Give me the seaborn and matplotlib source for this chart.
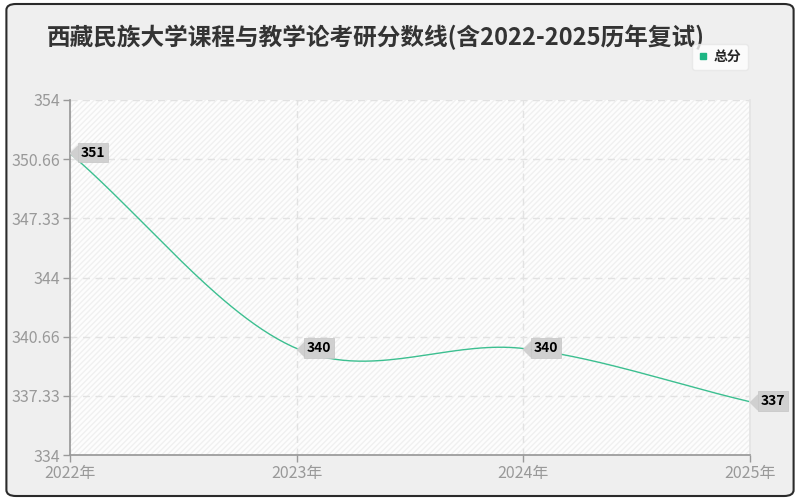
import numpy as np
import pandas as pd
import seaborn as sns
import matplotlib.pyplot as plt
from matplotlib.patches import FancyBboxPatch
from matplotlib.lines import Line2D

# data
years = [2022, 2023, 2024, 2025]
scores = [351, 340, 340, 337]
year_labels = ['2022年', '2023年', '2024年', '2025年']
y_ticks = [334, 337.33, 340.66, 344, 347.33, 350.66, 354]
y_tick_labels = ['334', '337.33', '340.66', '344', '347.33', '350.66', '354']
title = '西藏民族大学课程与教学论考研分数线(含2022-2025历年复试)'
series_name = '总分'

sns.set_theme(style='white')
plt.rcParams['font.family'] = ['Noto Sans CJK SC', 'DejaVu Sans']

# smooth curve through points (cardinal spline, like the web chart)
x = np.array(years, dtype=float)
y = np.array(scores, dtype=float)
n = len(x)
m = np.zeros(n)
for i in range(n):
    if i == 0:
        m[i] = (y[1] - y[0]) / (x[1] - x[0])
    elif i == n - 1:
        m[i] = (y[-1] - y[-2]) / (x[-1] - x[-2])
    else:
        m[i] = (y[i + 1] - y[i - 1]) / (x[i + 1] - x[i - 1])
xs, ys = [], []
for i in range(n - 1):
    t = np.linspace(0, 1, 60)
    h = x[i + 1] - x[i]
    h00 = 2 * t**3 - 3 * t**2 + 1
    h10 = t**3 - 2 * t**2 + t
    h01 = -2 * t**3 + 3 * t**2
    h11 = t**3 - t**2
    xs.extend(x[i] + t * h)
    ys.extend(h00 * y[i] + h10 * h * m[i] + h01 * y[i + 1] + h11 * h * m[i + 1])
curve = pd.DataFrame({'year': xs, 'score': ys})

fig = plt.figure(figsize=(8, 5), dpi=100)
fig.patch.set_facecolor('white')
frame = FancyBboxPatch((0.008, 0.008), 0.984, 0.984, boxstyle='round,pad=0,rounding_size=0.012',
                       transform=fig.transFigure, facecolor='#efefef', edgecolor='#2a2a2a',
                       linewidth=1.5, zorder=-10)
fig.patches.append(frame)

ax = fig.add_axes([0.0875, 0.09, 0.85, 0.71])
ax.set_facecolor('#fdfdfd')
ax.patch.set_hatch('//////')
ax.patch.set_edgecolor('#f0f0f0')
ax.patch.set_linewidth(0)

sns.lineplot(data=curve, x='year', y='score', ax=ax, color='#3cbf90', linewidth=1, sort=False)

ax.set_xlim(2022, 2025)
ax.set_ylim(334, 354)
ax.set_xticks(years)
ax.set_xticklabels(year_labels)
ax.set_yticks(y_ticks)
ax.set_yticklabels(y_tick_labels)
ax.set_xlabel('')
ax.set_ylabel('')
ax.tick_params(axis='both', colors='#999999', labelsize=11.5, length=5, width=1, direction='out',
               bottom=True, left=True, pad=2)
for lab in ax.get_xticklabels() + ax.get_yticklabels():
    lab.set_color('#999999')
ax.grid(True, linestyle=(0, (5, 4)), color='#e2e2e2', linewidth=1)
ax.spines['top'].set_visible(False)
ax.spines['right'].set_color('#e4e4e4')
ax.spines['left'].set_color('#999999')
ax.spines['bottom'].set_color('#999999')

# value labels: small grey arrow + box
arrow_verts = [(0, 0), (1, -1), (1, 1), (0, 0)]
for xv, yv in zip(years, scores):
    ax.plot([xv], [yv], marker=arrow_verts, markersize=10.5, color='#d0d0d0',
            linestyle='', zorder=5, clip_on=False)
    ax.annotate(str(yv), xy=(xv, yv), xytext=(7.5, 0.5), textcoords='offset points',
                ha='left', va='center', fontsize=10, fontweight='bold', color='black',
                bbox=dict(boxstyle='square,pad=0.2', facecolor='#d0d0d0', edgecolor='#c4c4c4',
                          linewidth=0.5),
                zorder=5, annotation_clip=False)

fig.text(0.058, 0.925, title, fontsize=17, fontweight='bold', color='#333333', ha='left', va='center')

handle = Line2D([], [], marker='s', linestyle='', color='#1db583', markersize=4)
leg = fig.legend([handle], [series_name], loc='center', bbox_to_anchor=(0.9, 0.886),
                 frameon=True, fontsize=10, handlelength=0.6, handletextpad=0.5,
                 borderpad=0.45, fancybox=True)
leg.get_frame().set_facecolor('white')
leg.get_frame().set_edgecolor('#e6e6e6')
leg.set_zorder(10)
for txt in leg.get_texts():
    txt.set_fontweight('bold')

fig.savefig('out.png', dpi=100, facecolor=fig.get_facecolor())
